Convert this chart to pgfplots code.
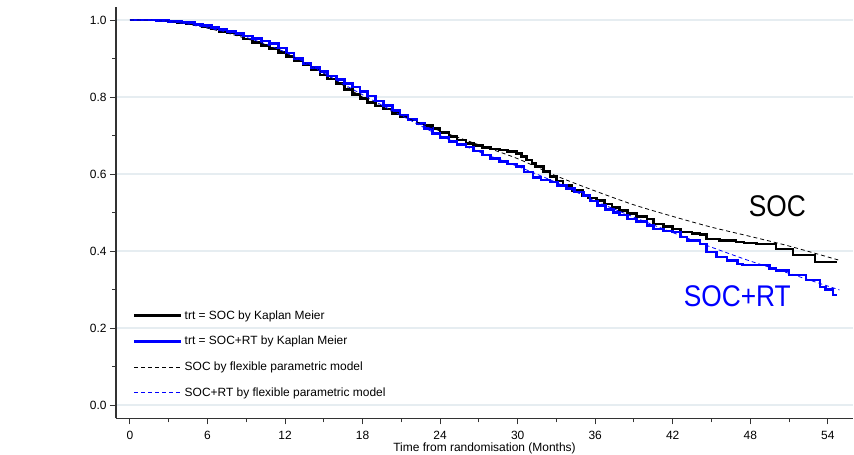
\documentclass[border=0pt]{standalone}
\usepackage{pgfplots}
\pgfplotsset{compat=1.18}
\usepackage{fontspec}
\setmainfont{Liberation Sans}
\definecolor{axgray}{HTML}{333333}
\definecolor{gridc}{HTML}{E6EDF1}
\begin{document}
\begin{tikzpicture}
\useasboundingbox (0,0) rectangle (854bp,455bp);
\begin{axis}[
  at={(116bp,36.7bp)}, anchor=south west,
  scale only axis, width=737bp, height=411.3bp,
  xmin=-1.08, xmax=55.95, ymin=-0.0345, ymax=1.034,
  axis lines*=left,
  axis line style={color=axgray, line width=1.2bp},
  xtick={0,6,...,54}, minor xtick={3,9,...,51},
  ytick={0,0.2,0.4,0.6,0.8,1.0}, minor ytick={0.1,0.3,0.5,0.7,0.9},
  tick align=outside, major tick length=6bp, minor tick length=4bp,
  every tick/.style={color=axgray, line width=1bp},
  ymajorgrids, major grid style={color=gridc, line width=1.2bp},
  /pgf/number format/assume math mode=true,
  yticklabel style={/pgf/number format/fixed, /pgf/number format/fixed zerofill, /pgf/number format/precision=1},
  xticklabel style={yshift=-3bp},
  tick label style={font=\fontsize{12}{14}\selectfont},
  xlabel={Time from randomisation (Months)},
  xlabel style={font=\fontsize{12}{14}\selectfont, yshift=3bp},
  legend style={draw=none, fill=none, at={(0.0227,0.156)}, anchor=west,
    font=\fontsize{12}{14}\selectfont, row sep=11.5bp, inner sep=0pt,
    nodes={inner sep=2bp}},
  legend cell align=left,
  legend image code/.code={\draw[#1] (0bp,0bp) -- (38bp,0bp); \path (0bp,0bp) -- (47bp,0bp);},
  clip=false,
]
\addlegendimage{black, line width=2.8bp}
\addlegendentry{trt = SOC by Kaplan Meier}
\addlegendimage{blue, line width=2.8bp}
\addlegendentry{trt = SOC+RT by Kaplan Meier}
\addlegendimage{black, line width=0.9bp, dash pattern=on 4bp off 3bp}
\addlegendentry{SOC by flexible parametric model}
\addlegendimage{blue, line width=0.9bp, dash pattern=on 4bp off 3bp}
\addlegendentry{SOC+RT by flexible parametric model}
% SOC Kaplan-Meier
\addplot[forget plot, const plot, black, line width=2.6bp] coordinates {
(0,1.0)(2,0.999)(3,0.997)(3.7,0.994)(4.35,0.991)(5.0,0.987)(5.6,0.983)(6.3,0.977)(6.9,0.970)(7.5,0.966)
(8.2,0.961)(8.8,0.951)(9.5,0.941)(10.2,0.934)(10.8,0.926)(11.5,0.916)(12.1,0.905)(12.7,0.894)(13.4,0.883)
(14.0,0.870)(14.7,0.857)(15.3,0.847)(16.0,0.836)(16.6,0.820)(17.2,0.806)(17.8,0.796)(18.4,0.786)(19.0,0.777)
(19.6,0.769)(20.3,0.758)(20.9,0.749)(21.5,0.740)(22.2,0.732)(22.8,0.726)(23.4,0.719)(24.0,0.708)(24.7,0.697)
(25.3,0.688)(26.0,0.680)(26.6,0.674)(27.3,0.669)(27.9,0.665)(28.6,0.662)(29.2,0.658)(29.9,0.654)(30.3,0.645)
(30.7,0.636)(31.1,0.628)(31.4,0.619)(32.0,0.606)(32.5,0.593)(33.0,0.582)(33.5,0.571)(34.2,0.558)(35.0,0.545)
(35.5,0.538)(36.1,0.532)(36.7,0.522)(37.3,0.513)(37.9,0.505)(38.5,0.497)(39.2,0.490)(40.0,0.483)(40.5,0.470)
(41.3,0.463)(42.0,0.457)(42.6,0.449)(43.5,0.446)(44.1,0.443)(44.6,0.431)(45.6,0.428)(46.9,0.424)(47.5,0.421)
(48.5,0.418)(50.0,0.405)(51.3,0.390)(53.0,0.372)(54.7,0.372)};
% SOC+RT Kaplan-Meier
\addplot[forget plot, const plot, blue, line width=2.6bp] coordinates {
(0,1.0)(2,0.999)(3,0.997)(4,0.993)(5,0.989)(5.6,0.986)(6.3,0.981)(6.9,0.976)(7.5,0.971)(8.2,0.965)(8.8,0.959)
(9.5,0.952)(10.2,0.946)(10.8,0.939)(11.5,0.927)(12.1,0.914)(12.7,0.900)(13.4,0.887)(14.0,0.877)(14.7,0.866)
(15.3,0.855)(16.0,0.845)(16.6,0.835)(17.2,0.826)(17.8,0.815)(18.4,0.803)(19.0,0.790)(19.6,0.778)(20.3,0.765)
(20.9,0.753)(21.5,0.742)(22.2,0.732)(22.8,0.719)(23.4,0.706)(24.0,0.695)(24.7,0.684)(25.3,0.677)(26.0,0.670)
(26.6,0.660)(27.3,0.649)(27.9,0.640)(28.6,0.632)(29.2,0.626)(29.9,0.619)(30.5,0.605)(31.2,0.591)(31.8,0.585)
(32.5,0.579)(33.1,0.571)(33.8,0.563)(34.4,0.553)(35.1,0.544)(35.6,0.530)(36.2,0.518)(36.8,0.508)(37.4,0.500)
(37.9,0.494)(38.5,0.483)(39.2,0.476)(40.0,0.466)(40.5,0.457)(41.3,0.452)(42.0,0.449)(42.6,0.437)(43.1,0.427)
(44.1,0.418)(44.6,0.397)(45.4,0.385)(46.2,0.375)(47.0,0.366)(47.4,0.364)(49.5,0.355)(50.0,0.349)(51.0,0.338)
(52.3,0.325)(53.4,0.307)(53.8,0.300)(54.4,0.286)(54.7,0.286)};
% SOC flexible parametric
\addplot[forget plot, smooth, black, line width=0.8bp, dash pattern=on 4bp off 3bp] coordinates {
(0,1.0)(3,0.997)(6,0.979)(9,0.952)(12,0.915)(15,0.862)(18,0.800)(21,0.752)(24,0.712)(27,0.676)
(30,0.640)(33,0.595)(36,0.556)(39,0.520)(42,0.490)(45,0.462)(48,0.438)(51,0.413)(54.8,0.377)};
% SOC+RT flexible parametric
\addplot[forget plot, smooth, blue, line width=0.8bp, dash pattern=on 4bp off 3bp] coordinates {
(0,1.0)(3,0.997)(6,0.980)(9,0.955)(12,0.917)(15,0.862)(18,0.806)(21,0.752)(24,0.700)(27,0.658)
(30,0.620)(33,0.578)(36,0.530)(39,0.488)(42,0.448)(45,0.410)(48,0.374)(51,0.342)(54.9,0.299)};
\node[font=\fontsize{30}{30}\selectfont, inner sep=0pt] at (axis cs:50.1,0.516) {\scalebox{0.88}[1]{SOC}};
\node[font=\fontsize{30}{30}\selectfont, inner sep=0pt, text=blue] at (axis cs:47.0,0.283) {\scalebox{0.88}[1]{SOC+RT}};
\end{axis}
\end{tikzpicture}
\end{document}
